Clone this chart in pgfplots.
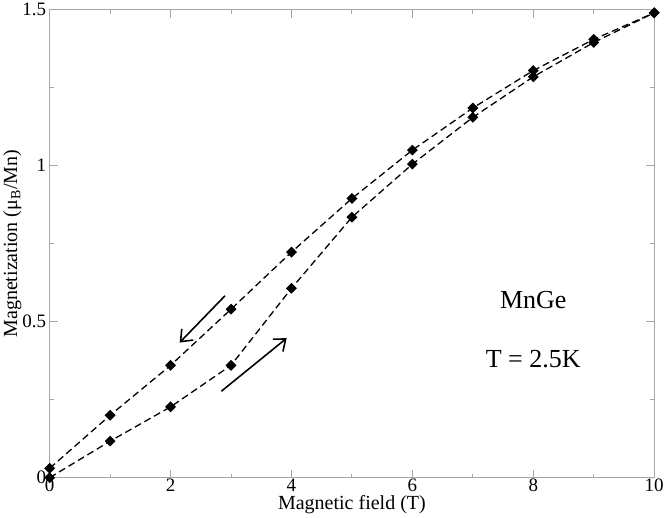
\documentclass[border=0pt]{standalone}
\usepackage{pgfplots}
\pgfplotsset{compat=1.18}
\usetikzlibrary{arrows.meta}
\usepackage{fontspec}
\setmainfont{Liberation Serif}
\begin{document}
\begin{tikzpicture}
\begin{axis}[
  scale only axis, width=602bp, height=466bp,
  xmin=0, xmax=10, ymin=0, ymax=1.5,
  xtick={0,2,4,6,8,10}, ytick={0,0.5,1,1.5},
  yticklabels={0,0.5,1,1.5},
  minor xtick={1,3,5,7,9}, minor ytick={0.25,0.75,1.25},
  tick align=inside, major tick length=8pt, minor tick length=4pt,
  axis line style={gray!70, line width=1pt}, every tick/.style={gray!70, line width=1pt},
  tick label style={font=\fontsize{19}{22}\selectfont},
  xticklabel style={yshift=2pt},
  label style={font=\fontsize{20}{24}\selectfont},
  /pgf/number format/assume math mode=true,
  xlabel={Magnetic field (T)},
  ylabel={Magnetization (μ\textsubscript{B}/Mn)},
  xlabel style={yshift=3pt}, ylabel style={yshift=-6pt},
]
\addplot[black, dash pattern=on 7pt off 4pt, line width=1.3pt, mark=square*, mark size=3.2pt, mark options={solid, rotate=45}]
 coordinates {(0,0.03)(1,0.2)(2,0.36)(3,0.54)(4,0.723)(5,0.895)(6,1.05)(7,1.185)(8,1.305)(9,1.405)(10,1.49)};
\addplot[black, dash pattern=on 7pt off 4pt, line width=1.3pt, mark=square*, mark size=3.2pt, mark options={solid, rotate=45}]
 coordinates {(0,0)(1,0.117)(2,0.227)(3,0.36)(4,0.607)(5,0.835)(6,1.005)(7,1.155)(8,1.285)(9,1.395)(10,1.49)};
\draw[-{Straight Barb[length=10pt,width=16pt]}, line width=1.6pt] (axis cs:2.9,0.583) -- (axis cs:2.15,0.433);
\draw[-{Straight Barb[length=10pt,width=16pt]}, line width=1.6pt] (axis cs:2.84,0.277) -- (axis cs:3.92,0.447);
\node[font=\fontsize{26}{30}\selectfont] at (axis cs:8.0,0.57) {MnGe};
\node[font=\fontsize{26}{30}\selectfont] at (axis cs:8.0,0.38) {T = 2.5K};
\end{axis}
\end{tikzpicture}
\end{document}
